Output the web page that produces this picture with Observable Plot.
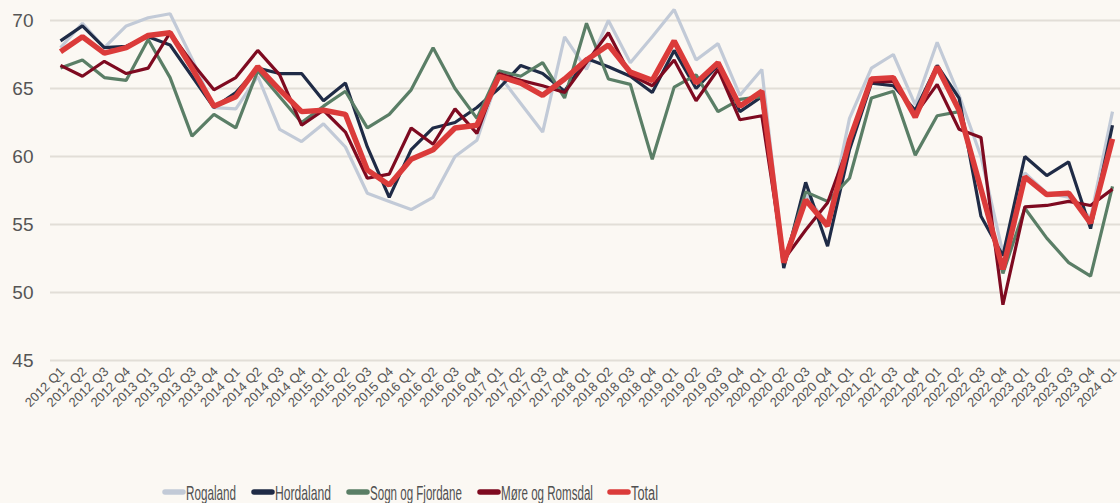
<!DOCTYPE html>
<html>
<head>
<meta charset="utf-8">
<script src="https://cdn.jsdelivr.net/npm/d3@7"></script>
<script src="https://cdn.jsdelivr.net/npm/@observablehq/plot@0.6"></script>
<style>
  html, body { margin: 0; padding: 0; background: #fbf8f3; }
  #chart svg { display: block; }
  #legend { display: block; }
</style>
</head>
<body>
<div id="chart"></div>
<svg id="legend" width="1120" height="33"></svg>
<script>
const quarters = [
  "2012 Q1","2012 Q2","2012 Q3","2012 Q4",
  "2013 Q1","2013 Q2","2013 Q3","2013 Q4",
  "2014 Q1","2014 Q2","2014 Q3","2014 Q4",
  "2015 Q1","2015 Q2","2015 Q3","2015 Q4",
  "2016 Q1","2016 Q2","2016 Q3","2016 Q4",
  "2017 Q1","2017 Q2","2017 Q3","2017 Q4",
  "2018 Q1","2018 Q2","2018 Q3","2018 Q4",
  "2019 Q1","2019 Q2","2019 Q3","2019 Q4",
  "2020 Q1","2020 Q2","2020 Q3","2020 Q4",
  "2021 Q1","2021 Q2","2021 Q3","2021 Q4",
  "2022 Q1","2022 Q2","2022 Q3","2022 Q4",
  "2023 Q1","2023 Q2","2023 Q3","2023 Q4",
  "2024 Q1"
];

const rogaland = [
  68.0, 69.8, 68.0, 69.6, 70.2, 70.5, 67.2, 63.6, 63.5, 65.9, 62.0, 61.1,
  62.4, 60.7, 57.3, 56.7, 56.1, 57.0, 60.0, 61.2, 66.0, 63.9, 61.8, 68.8,
  66.4, 70.0, 66.9, 68.8, 70.8, 67.1, 68.3, 64.5, 66.4, 52.2, 57.2, 55.0,
  62.8, 66.5, 67.5, 63.8, 68.4, 64.5, 60.0, 52.9, 58.8, 57.3, 57.0, 55.5,
  63.3
];
const hordaland = [
  68.5, 69.6, 68.0, 68.1, 68.8, 68.2, 65.9, 63.6, 64.7, 66.5, 66.1, 66.1,
  64.1, 65.4, 60.7, 57.0, 60.5, 62.1, 62.5, 63.6, 65.0, 66.7, 66.1, 64.8,
  67.2, 66.6, 65.9, 64.7, 67.8, 65.0, 66.7, 63.3, 64.4, 51.8, 58.1, 53.4,
  60.5, 65.4, 65.2, 63.4, 66.7, 64.3, 55.6, 52.7, 60.0, 58.6, 59.6, 54.7,
  62.3
];
const sogn = [
  66.5, 67.1, 65.8, 65.6, 68.6, 65.8, 61.5, 63.1, 62.1, 66.3, 64.4, 62.5,
  63.7, 64.8, 62.1, 63.1, 64.9, 68.0, 65.0, 62.8, 66.3, 65.9, 66.9, 64.3,
  69.8, 65.7, 65.3, 59.8, 65.1, 66.0, 63.3, 64.2, 64.4, 52.2, 57.4, 56.7,
  58.4, 64.3, 64.8, 60.1, 63.0, 63.3, 57.5, 51.4, 56.2, 54.0, 52.2, 51.2,
  57.8
];
const more = [
  66.7, 65.9, 67.0, 66.1, 66.5, 69.1, 66.9, 64.9, 65.8, 67.8, 66.0, 62.3,
  63.4, 61.8, 58.4, 58.7, 62.1, 60.9, 63.5, 61.7, 66.1, 65.6, 65.2, 64.7,
  66.9, 69.1, 66.0, 65.2, 67.1, 64.1, 66.4, 62.7, 63.0, 52.4, 54.6, 56.6,
  61.0, 65.5, 65.5, 63.1, 65.3, 62.0, 61.4, 49.1, 56.3, 56.4, 56.7, 56.4,
  57.6
];
const total = [
  67.7, 68.8, 67.6, 68.0, 68.9, 69.1, 66.5, 63.7, 64.4, 66.6, 64.9, 63.3,
  63.4, 63.1, 59.0, 57.9, 59.8, 60.5, 62.1, 62.3, 65.9, 65.4, 64.5, 65.7,
  67.1, 68.2, 66.2, 65.6, 68.5, 65.4, 66.9, 63.7, 64.8, 52.2, 56.8, 54.9,
  61.2, 65.7, 65.8, 62.9, 66.6, 63.4, 57.6, 51.7, 58.5, 57.2, 57.3, 55.1,
  61.3
];

const seriesNames = ["Rogaland", "Hordaland", "Sogn og Fjordane", "Møre og Romsdal", "Total"];
const seriesValues = [rogaland, hordaland, sogn, more, total];
const seriesColors = ["#c2cad7", "#1f2b46", "#5a7e66", "#7e0a20", "#db3b3a"];
const seriesWidths = [3.2, 3.2, 3.2, 3.2, 5.5];
const yTicks = [45, 50, 55, 60, 65, 70];

const rows = [];
seriesNames.forEach((name, s) => {
  seriesValues[s].forEach((v, i) => rows.push({series: name, quarter: quarters[i], value: v}));
});

const chart = Plot.plot({
  width: 1120,
  height: 470,
  marginLeft: 50,
  marginRight: 0,
  marginTop: 20,
  marginBottom: 110,
  style: {background: "transparent", fontFamily: "'Liberation Sans', Arial, sans-serif", color: "#555"},
  x: {type: "point", domain: quarters, range: [60, 1112], padding: 0, label: null},
  y: {domain: [45, 70], label: null},
  marks: [
    Plot.ruleY(yTicks, {stroke: "#e2ded7", strokeWidth: 2}),
    ...seriesNames.map((name, s) =>
      Plot.lineY(rows.filter(d => d.series === name), {
        x: "quarter", y: "value",
        stroke: seriesColors[s], strokeWidth: seriesWidths[s],
        strokeLinejoin: "miter", strokeLinecap: "butt"
      })
    ),
    Plot.axisX({tickRotate: -45, tickSize: 0, tickPadding: 9, dx: 2, fontSize: 13, fill: "#555", label: null}),
    Plot.axisY({ticks: yTicks, tickSize: 0, tickPadding: 17, fontSize: 19, fill: "#555", label: null})
  ]
});
document.getElementById("chart").appendChild(chart);

// Legend
const legendWidths = [50, 56, 92, 92, 27];
const legendStarts = [163, 252, 347, 478, 608];
const lg = d3.select("#legend");
seriesNames.forEach((name, s) => {
  const x0 = legendStarts[s];
  lg.append("line")
    .attr("x1", x0 + 2).attr("x2", x0 + 20)
    .attr("y1", 22).attr("y2", 22)
    .attr("stroke", seriesColors[s])
    .attr("stroke-width", 5.5)
    .attr("stroke-linecap", "round");
  const g = lg.append("g").attr("transform", `translate(${x0 + 23},29)`);
  const t = g.append("text")
    .attr("x", 0).attr("y", 0)
    .attr("fill", "#505050")
    .attr("font-family", "'Liberation Sans Narrow', 'Liberation Sans', Arial, sans-serif")
    .attr("font-size", 21)
    .text(name);
  const w = t.node().getComputedTextLength();
  g.attr("transform", `translate(${x0 + 23},29.5) scale(${legendWidths[s] / w},1)`);
});
</script>
</body>
</html>
